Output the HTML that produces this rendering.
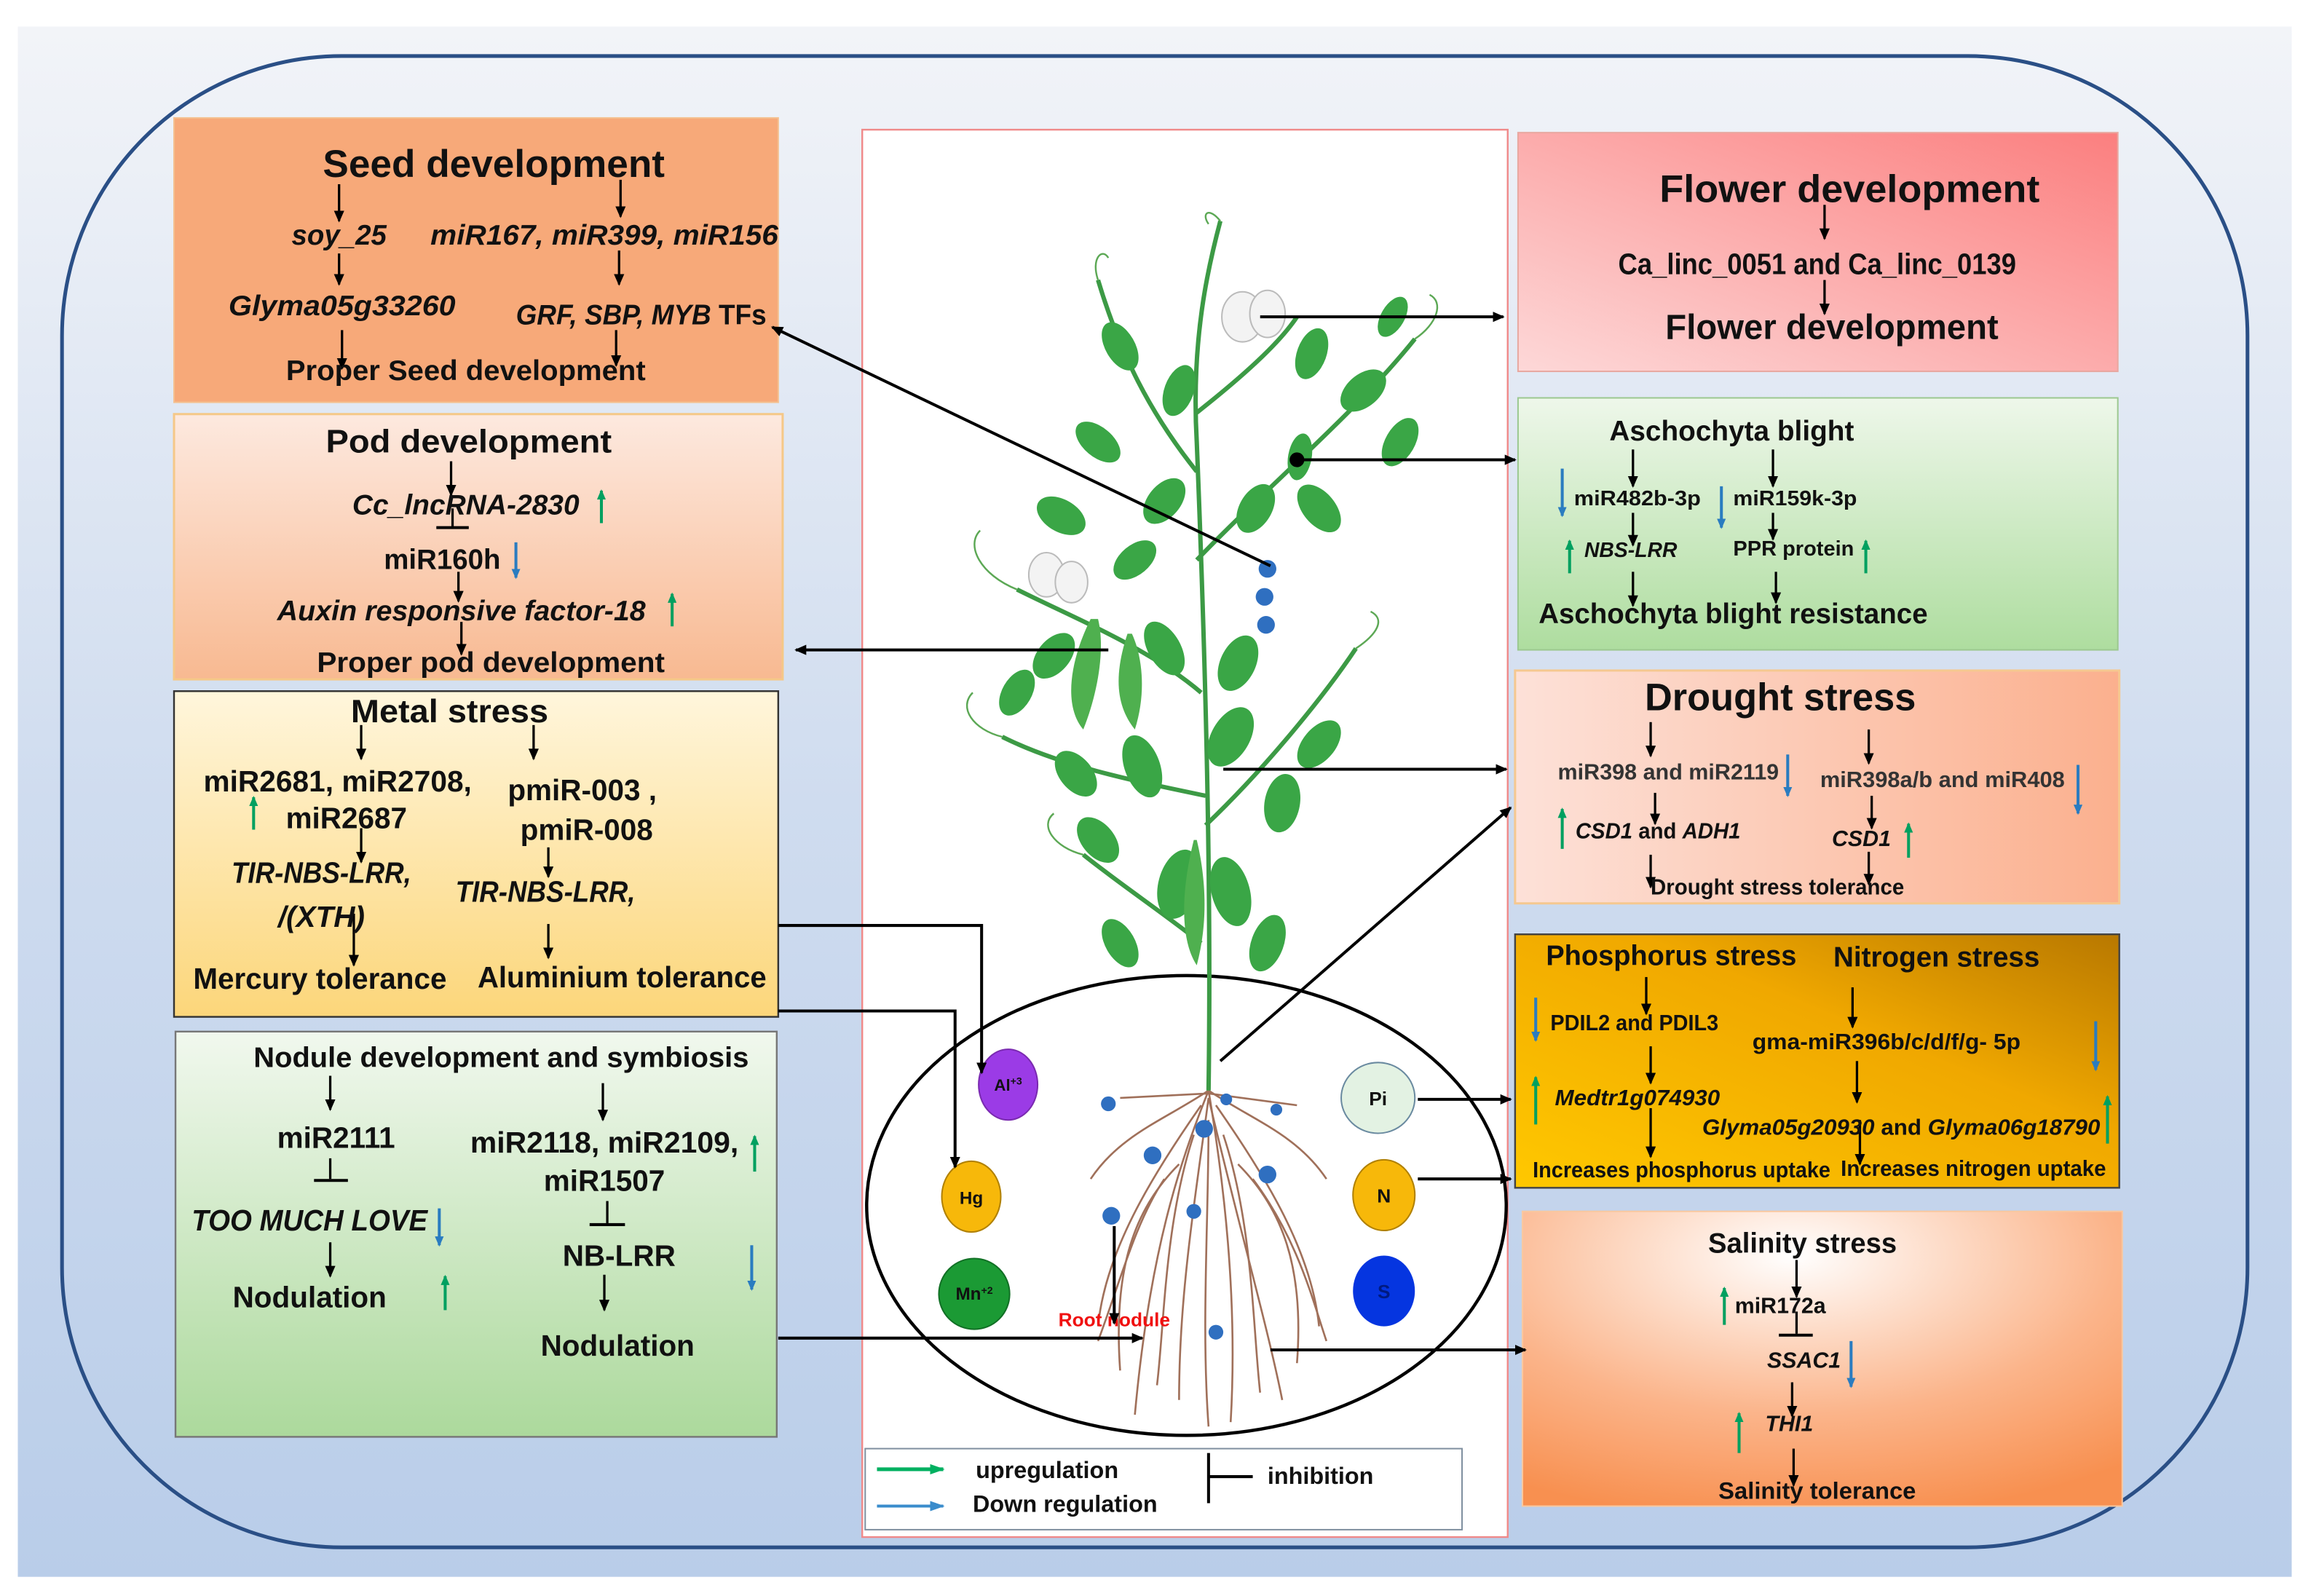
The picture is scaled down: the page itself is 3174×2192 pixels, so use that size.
<!DOCTYPE html>
<html><head><meta charset="utf-8"><style>
html,body{margin:0;padding:0;background:#fff;}
svg{display:block;}
text{font-family:"Liberation Sans Narrow","Liberation Sans",sans-serif;font-weight:bold;fill:#111;}
.i{font-style:italic;}
.g{stroke:#00a060;stroke-width:2;marker-end:url(#sgG);}
.b{stroke:#2a7cc0;stroke-width:2;marker-end:url(#sgB);}
</style></head><body>
<svg width="3174" height="2192" viewBox="0 0 1568 1083" xmlns="http://www.w3.org/2000/svg">
<defs>
<linearGradient id="bg" x1="0" y1="0" x2="0" y2="1"><stop offset="0" stop-color="#f2f4f8"/><stop offset="0.5" stop-color="#cfdcef"/><stop offset="1" stop-color="#b9cde9"/></linearGradient>
<linearGradient id="pod" x1="0" y1="0" x2="0" y2="1"><stop offset="0" stop-color="#fde9df"/><stop offset="1" stop-color="#f8b991"/></linearGradient>
<linearGradient id="metal" x1="0" y1="0" x2="0" y2="1"><stop offset="0" stop-color="#fff6dc"/><stop offset="1" stop-color="#fcd67a"/></linearGradient>
<linearGradient id="nod" x1="0" y1="0" x2="0" y2="1"><stop offset="0" stop-color="#f1f8ee"/><stop offset="1" stop-color="#acd99c"/></linearGradient>
<linearGradient id="flw" x1="0" y1="1" x2="1" y2="0"><stop offset="0" stop-color="#fdd8d8"/><stop offset="1" stop-color="#fb7f7f"/></linearGradient>
<linearGradient id="asc" x1="0" y1="0" x2="0" y2="1"><stop offset="0" stop-color="#eef7ea"/><stop offset="1" stop-color="#aedd9f"/></linearGradient>
<linearGradient id="dro" x1="0" y1="0" x2="1" y2="0"><stop offset="0" stop-color="#fde1d8"/><stop offset="1" stop-color="#fbb08e"/></linearGradient>
<linearGradient id="pn" x1="0" y1="1" x2="1" y2="0"><stop offset="0" stop-color="#ffc800"/><stop offset="0.6" stop-color="#f0a800"/><stop offset="1" stop-color="#b87800"/></linearGradient>
<radialGradient id="sal" cx="0.45" cy="0.15" r="0.9"><stop offset="0" stop-color="#ffffff"/><stop offset="0.6" stop-color="#fbb48a"/><stop offset="1" stop-color="#f89050"/></radialGradient>
<marker id="a" markerWidth="8" markerHeight="8" refX="7" refY="4" orient="auto" markerUnits="userSpaceOnUse"><path d="M0,0.5 L8,4 L0,7.5 z" fill="#000"/></marker>
<marker id="ag" markerWidth="10" markerHeight="8" refX="9" refY="4" orient="auto" markerUnits="userSpaceOnUse"><path d="M0,0.5 L10,4 L0,7.5 z" fill="#00b060"/></marker>
<marker id="ab" markerWidth="10" markerHeight="8" refX="9" refY="4" orient="auto" markerUnits="userSpaceOnUse"><path d="M0,0.5 L10,4 L0,7.5 z" fill="#3a8ccc"/></marker>
<marker id="sgG" markerWidth="7" markerHeight="6" refX="6" refY="3" orient="auto" markerUnits="userSpaceOnUse"><path d="M0,0 L7,3 L0,6 z" fill="#00a060"/></marker>
<marker id="sgB" markerWidth="7" markerHeight="6" refX="6" refY="3" orient="auto" markerUnits="userSpaceOnUse"><path d="M0,0 L7,3 L0,6 z" fill="#2a7cc0"/></marker>
</defs>
<rect x="0" y="0" width="1568" height="1083" fill="#fff"/>
<rect x="12" y="18" width="1543" height="1052" fill="url(#bg)"/>
<rect x="42" y="38" width="1483" height="1012" rx="190" ry="190" fill="none" stroke="#2a4f86" stroke-width="2.5"/>

<rect x="118" y="80" width="410" height="193" fill="#f7a979" stroke="#f4c090" stroke-width="1"/>
<rect x="118" y="281" width="413" height="180" fill="url(#pod)" stroke="#f5c888" stroke-width="1.5"/>
<rect x="118" y="469" width="410" height="221" fill="url(#metal)" stroke="#333" stroke-width="1.2"/>
<rect x="119" y="700" width="408" height="275" fill="url(#nod)" stroke="#777" stroke-width="1.2"/>
<rect x="585" y="88" width="438" height="955" fill="#fff" stroke="#f08a8a" stroke-width="1.2"/>
<rect x="1030" y="90" width="407" height="162" fill="url(#flw)" stroke="#e8a8a0" stroke-width="1"/>
<rect x="1030" y="270" width="407" height="171" fill="url(#asc)" stroke="#9cc890" stroke-width="1"/>
<rect x="1028" y="455" width="410" height="158" fill="url(#dro)" stroke="#f5c890" stroke-width="1.5"/>
<rect x="1028" y="634" width="410" height="172" fill="url(#pn)" stroke="#444" stroke-width="1.2"/>
<rect x="1033" y="822" width="407" height="200" fill="url(#sal)" stroke="#f8c8a0" stroke-width="1"/>

<!-- Seed -->
<g stroke="#000" stroke-width="1.6" marker-end="url(#a)">
<line x1="230" y1="125" x2="230" y2="150"/><line x1="421" y1="122" x2="421" y2="147"/>
<line x1="230" y1="172" x2="230" y2="193"/><line x1="420" y1="170" x2="420" y2="193"/>
<line x1="232" y1="224" x2="232" y2="250"/><line x1="418" y1="224" x2="418" y2="248"/>
</g>
<text x="335" y="120" font-size="26" text-anchor="middle" textLength="232" lengthAdjust="spacingAndGlyphs">Seed development</text>
<text x="230" y="166" font-size="19" text-anchor="middle" class="i">soy_25</text>
<text x="410" y="166" font-size="19" text-anchor="middle" class="i" textLength="236" lengthAdjust="spacingAndGlyphs">miR167, miR399, miR156</text>
<text x="232" y="214" font-size="19" text-anchor="middle" class="i" textLength="154" lengthAdjust="spacingAndGlyphs">Glyma05g33260</text>
<text x="435" y="220" font-size="19" text-anchor="middle" textLength="170" lengthAdjust="spacingAndGlyphs"><tspan class="i">GRF, SBP, MYB</tspan> TFs</text>
<text x="316" y="258" font-size="19" text-anchor="middle" textLength="244" lengthAdjust="spacingAndGlyphs">Proper Seed development</text>

<!-- Pod -->
<g stroke="#000" stroke-width="1.6">
<line x1="306" y1="313" x2="306" y2="336" marker-end="url(#a)"/>
<line x1="307" y1="345" x2="307" y2="358"/><line x1="296" y1="358" x2="318" y2="358" stroke-width="2"/>
<line x1="311" y1="388" x2="311" y2="408" marker-end="url(#a)"/>
<line x1="313" y1="422" x2="313" y2="444" marker-end="url(#a)"/>
</g>
<text x="318" y="307" font-size="22" text-anchor="middle" textLength="194" lengthAdjust="spacingAndGlyphs">Pod development</text>
<text x="316" y="349" font-size="19" text-anchor="middle" class="i" textLength="154" lengthAdjust="spacingAndGlyphs">Cc_lncRNA-2830</text>
<text x="300" y="386" font-size="19" text-anchor="middle">miR160h</text>
<text x="313" y="421" font-size="19" text-anchor="middle" class="i" textLength="250" lengthAdjust="spacingAndGlyphs">Auxin responsive factor-18</text>
<text x="333" y="456" font-size="19" text-anchor="middle" textLength="236" lengthAdjust="spacingAndGlyphs">Proper pod development</text>
<line x1="408" y1="355" x2="408" y2="333" class="g"/>
<line x1="350" y1="368" x2="350" y2="392" class="b"/>
<line x1="456" y1="425" x2="456" y2="403" class="g"/>

<!-- Metal -->
<g stroke="#000" stroke-width="1.6" marker-end="url(#a)">
<line x1="245" y1="492" x2="245" y2="515"/><line x1="362" y1="492" x2="362" y2="515"/>
<line x1="245" y1="562" x2="245" y2="585"/><line x1="372" y1="575" x2="372" y2="595"/>
<line x1="240" y1="620" x2="240" y2="655"/><line x1="372" y1="627" x2="372" y2="650"/>
</g>
<text x="305" y="490" font-size="22" text-anchor="middle" textLength="134" lengthAdjust="spacingAndGlyphs">Metal stress</text>
<text x="229" y="537" font-size="20" text-anchor="middle" textLength="182" lengthAdjust="spacingAndGlyphs">miR2681, miR2708,</text>
<text x="235" y="562" font-size="20" text-anchor="middle">miR2687</text>
<text x="395" y="543" font-size="20" text-anchor="middle">pmiR-003 ,</text>
<text x="398" y="570" font-size="20" text-anchor="middle">pmiR-008</text>
<text x="218" y="599" font-size="20" text-anchor="middle" class="i" textLength="122" lengthAdjust="spacingAndGlyphs">TIR-NBS-LRR,</text>
<text x="218" y="629" font-size="20" text-anchor="middle" class="i">/(XTH)</text>
<text x="370" y="612" font-size="20" text-anchor="middle" class="i" textLength="122" lengthAdjust="spacingAndGlyphs">TIR-NBS-LRR,</text>
<text x="217" y="671" font-size="20" text-anchor="middle" textLength="172" lengthAdjust="spacingAndGlyphs">Mercury tolerance</text>
<text x="422" y="670" font-size="20" text-anchor="middle" textLength="196" lengthAdjust="spacingAndGlyphs">Aluminium tolerance</text>
<line x1="172" y1="563" x2="172" y2="541" class="g"/>

<!-- Nodule -->
<g stroke="#000" stroke-width="1.6">
<line x1="224" y1="730" x2="224" y2="753" marker-end="url(#a)"/><line x1="409" y1="735" x2="409" y2="760" marker-end="url(#a)"/>
<line x1="224" y1="786" x2="224" y2="800"/><line x1="213" y1="801" x2="236" y2="801" stroke-width="2"/>
<line x1="412" y1="815" x2="412" y2="830"/><line x1="400" y1="831" x2="424" y2="831" stroke-width="2"/>
<line x1="224" y1="843" x2="224" y2="866" marker-end="url(#a)"/><line x1="410" y1="865" x2="410" y2="889" marker-end="url(#a)"/>
</g>
<text x="340" y="724" font-size="19" text-anchor="middle" textLength="336" lengthAdjust="spacingAndGlyphs">Nodule development and symbiosis</text>
<text x="228" y="779" font-size="20" text-anchor="middle">miR2111</text>
<text x="410" y="782" font-size="20" text-anchor="middle" textLength="182" lengthAdjust="spacingAndGlyphs">miR2118, miR2109,</text>
<text x="410" y="808" font-size="20" text-anchor="middle">miR1507</text>
<text x="210" y="835" font-size="20" text-anchor="middle" class="i" textLength="160" lengthAdjust="spacingAndGlyphs">TOO MUCH LOVE</text>
<text x="420" y="859" font-size="20" text-anchor="middle">NB-LRR</text>
<text x="210" y="887" font-size="20" text-anchor="middle">Nodulation</text>
<text x="419" y="920" font-size="20" text-anchor="middle">Nodulation</text>
<line x1="512" y1="795" x2="512" y2="771" class="g"/>
<line x1="298" y1="820" x2="298" y2="845" class="b"/>
<line x1="510" y1="845" x2="510" y2="875" class="b"/>
<line x1="302" y1="889" x2="302" y2="866" class="g"/>

<!-- Flower -->
<g stroke="#000" stroke-width="1.6" marker-end="url(#a)">
<line x1="1238" y1="139" x2="1238" y2="162"/><line x1="1238" y1="190" x2="1238" y2="213"/>
</g>
<text x="1255" y="137" font-size="26" text-anchor="middle" textLength="258" lengthAdjust="spacingAndGlyphs">Flower development</text>
<text x="1233" y="186" font-size="20" text-anchor="middle" textLength="270" lengthAdjust="spacingAndGlyphs">Ca_linc_0051 and Ca_linc_0139</text>
<text x="1243" y="230" font-size="24" text-anchor="middle" textLength="226" lengthAdjust="spacingAndGlyphs">Flower development</text>

<!-- Ascochyta -->
<g stroke="#000" stroke-width="1.6" marker-end="url(#a)">
<line x1="1108" y1="305" x2="1108" y2="330"/><line x1="1203" y1="305" x2="1203" y2="330"/>
<line x1="1108" y1="348" x2="1108" y2="370"/><line x1="1203" y1="348" x2="1203" y2="366"/>
<line x1="1108" y1="388" x2="1108" y2="411"/><line x1="1205" y1="388" x2="1205" y2="409"/>
</g>
<text x="1175" y="299" font-size="19" text-anchor="middle" textLength="166" lengthAdjust="spacingAndGlyphs">Aschochyta blight</text>
<text x="1068" y="343" font-size="14" textLength="86" lengthAdjust="spacingAndGlyphs">miR482b-3p</text>
<text x="1176" y="343" font-size="14" textLength="84" lengthAdjust="spacingAndGlyphs">miR159k-3p</text>
<text x="1075" y="378" font-size="14" class="i">NBS-LRR</text>
<text x="1176" y="377" font-size="14" textLength="82" lengthAdjust="spacingAndGlyphs">PPR protein</text>
<text x="1176" y="423" font-size="19" text-anchor="middle" textLength="264" lengthAdjust="spacingAndGlyphs">Aschochyta blight resistance</text>
<line x1="1060" y1="318" x2="1060" y2="350" class="b"/>
<line x1="1168" y1="330" x2="1168" y2="358" class="b"/>
<line x1="1065" y1="389" x2="1065" y2="367" class="g"/>
<line x1="1266" y1="389" x2="1266" y2="367" class="g"/>

<!-- Drought -->
<g stroke="#000" stroke-width="1.6" marker-end="url(#a)">
<line x1="1120" y1="490" x2="1120" y2="513"/><line x1="1268" y1="495" x2="1268" y2="518"/>
<line x1="1123" y1="538" x2="1123" y2="559"/><line x1="1270" y1="540" x2="1270" y2="562"/>
<line x1="1120" y1="580" x2="1120" y2="602"/><line x1="1268" y1="578" x2="1268" y2="600"/>
</g>
<text x="1208" y="482" font-size="26" text-anchor="middle" textLength="184" lengthAdjust="spacingAndGlyphs">Drought stress</text>
<text x="1132" y="529" font-size="15" text-anchor="middle" style="fill:#333" textLength="150" lengthAdjust="spacingAndGlyphs">miR398 and miR2119</text>
<text x="1318" y="534" font-size="15" text-anchor="middle" style="fill:#333" textLength="166" lengthAdjust="spacingAndGlyphs">miR398a/b and miR408</text>
<text x="1125" y="569" font-size="15" text-anchor="middle" textLength="112" lengthAdjust="spacingAndGlyphs"><tspan class="i">CSD1</tspan> and <tspan class="i">ADH1</tspan></text>
<text x="1263" y="574" font-size="15" text-anchor="middle" class="i">CSD1</text>
<text x="1206" y="607" font-size="15" text-anchor="middle" textLength="172" lengthAdjust="spacingAndGlyphs">Drought stress tolerance</text>
<line x1="1213" y1="512" x2="1213" y2="540" class="b"/>
<line x1="1410" y1="519" x2="1410" y2="552" class="b"/>
<line x1="1060" y1="576" x2="1060" y2="549" class="g"/>
<line x1="1295" y1="582" x2="1295" y2="559" class="g"/>

<!-- P / N -->
<g stroke="#000" stroke-width="1.6" marker-end="url(#a)">
<line x1="1117" y1="663" x2="1117" y2="688"/><line x1="1257" y1="670" x2="1257" y2="697"/>
<line x1="1120" y1="710" x2="1120" y2="735"/><line x1="1260" y1="720" x2="1260" y2="748"/>
<line x1="1120" y1="752" x2="1120" y2="785"/><line x1="1262" y1="760" x2="1262" y2="790"/>
</g>
<text x="1134" y="655" font-size="19" text-anchor="middle" textLength="170" lengthAdjust="spacingAndGlyphs">Phosphorus stress</text>
<text x="1314" y="656" font-size="19" text-anchor="middle" textLength="140" lengthAdjust="spacingAndGlyphs">Nitrogen stress</text>
<text x="1052" y="699" font-size="15" textLength="114" lengthAdjust="spacingAndGlyphs">PDIL2 and PDIL3</text>
<text x="1280" y="712" font-size="15" text-anchor="middle" textLength="182" lengthAdjust="spacingAndGlyphs">gma-miR396b/c/d/f/g- 5p</text>
<text x="1055" y="750" font-size="15" class="i" textLength="112" lengthAdjust="spacingAndGlyphs">Medtr1g074930</text>
<text x="1290" y="770" font-size="15" text-anchor="middle" textLength="270" lengthAdjust="spacingAndGlyphs"><tspan class="i">Glyma05g20930</tspan> and <tspan class="i">Glyma06g18790</tspan></text>
<text x="1141" y="799" font-size="15" text-anchor="middle" textLength="202" lengthAdjust="spacingAndGlyphs">Increases phosphorus uptake</text>
<text x="1339" y="798" font-size="15" text-anchor="middle" textLength="180" lengthAdjust="spacingAndGlyphs">Increases nitrogen uptake</text>
<line x1="1042" y1="677" x2="1042" y2="706" class="b"/>
<line x1="1422" y1="693" x2="1422" y2="726" class="b"/>
<line x1="1042" y1="763" x2="1042" y2="731" class="g"/>
<line x1="1430" y1="776" x2="1430" y2="744" class="g"/>

<!-- Salinity -->
<g stroke="#000" stroke-width="1.6">
<line x1="1219" y1="855" x2="1219" y2="880" marker-end="url(#a)"/>
<line x1="1219" y1="890" x2="1219" y2="905"/><line x1="1207" y1="906" x2="1230" y2="906" stroke-width="2"/>
<line x1="1216" y1="938" x2="1216" y2="961" marker-end="url(#a)"/>
<line x1="1217" y1="983" x2="1217" y2="1008" marker-end="url(#a)"/>
</g>
<text x="1223" y="850" font-size="19" text-anchor="middle" textLength="128" lengthAdjust="spacingAndGlyphs">Salinity stress</text>
<text x="1208" y="891" font-size="15" text-anchor="middle">miR172a</text>
<text x="1224" y="928" font-size="15" text-anchor="middle" class="i">SSAC1</text>
<text x="1214" y="971" font-size="15" text-anchor="middle" class="i">THI1</text>
<text x="1233" y="1017" font-size="16" text-anchor="middle" textLength="134" lengthAdjust="spacingAndGlyphs">Salinity tolerance</text>
<line x1="1170" y1="899" x2="1170" y2="874" class="g"/>
<line x1="1256" y1="910" x2="1256" y2="941" class="b"/>
<line x1="1180" y1="986" x2="1180" y2="959" class="g"/>

<!-- Plant -->
<ellipse cx="805" cy="818" rx="217" ry="156" fill="none" stroke="#000" stroke-width="2.2"/>
<g stroke="#a0705a" stroke-width="1.3" fill="none">
<path d="M820,740 C800,790 780,850 770,960"/><path d="M820,740 C830,800 840,880 835,965"/>
<path d="M820,740 C790,760 760,770 740,800"/><path d="M820,740 C850,760 880,770 900,800"/>
<path d="M820,745 C810,820 800,880 800,950"/><path d="M820,745 C840,830 860,900 870,950"/>
<path d="M815,750 C780,800 750,850 745,900"/><path d="M825,750 C860,800 890,850 895,900"/>
<path d="M820,760 C820,830 815,900 820,968"/><path d="M810,770 C790,830 790,900 785,940"/>
<path d="M830,770 C850,830 850,900 855,945"/><path d="M800,790 C770,820 755,860 760,930"/>
<path d="M840,790 C870,820 885,860 880,925"/><path d="M820,742 L760,745"/><path d="M820,742 L880,750"/>
<path d="M790,800 C770,830 760,870 745,910"/><path d="M850,800 C880,840 890,880 900,910"/>
</g>
<g fill="#2f6fc0">
<circle cx="752" cy="749" r="5"/><circle cx="832" cy="746" r="4"/><circle cx="866" cy="753" r="4"/>
<circle cx="817" cy="766" r="6"/><circle cx="782" cy="784" r="6"/><circle cx="860" cy="797" r="6"/>
<circle cx="810" cy="822" r="5"/><circle cx="754" cy="825" r="6"/><circle cx="825" cy="904" r="5"/>
<circle cx="860" cy="386" r="6"/><circle cx="858" cy="405" r="6"/><circle cx="859" cy="424" r="6"/>
</g>
<g stroke="#3c9a45" stroke-width="3" fill="none">
<path d="M820,740 C822,600 818,450 812,300 C808,230 820,180 828,150"/>
<path d="M815,470 C780,440 730,420 690,400"/><path d="M812,380 C860,330 920,280 960,230"/>
<path d="M812,320 C780,280 760,240 745,190"/><path d="M818,560 C860,520 900,470 920,440"/>
<path d="M818,540 C770,530 720,520 680,500"/><path d="M815,640 C790,620 760,600 735,580"/>
<path d="M812,280 C850,250 870,230 880,215"/>
</g>
<g stroke="#5ca855" stroke-width="1.2" fill="none">
<path d="M828,150 C820,140 815,145 820,152"/><path d="M960,230 C975,220 980,205 970,200"/>
<path d="M690,400 C665,390 655,370 665,360"/><path d="M745,190 C740,175 748,168 752,175"/>
<path d="M920,440 C935,430 940,420 930,415"/><path d="M680,500 C660,495 650,480 660,470"/>
<path d="M735,580 C715,575 705,560 715,552"/>
</g>
<g fill="#3aa646">
<ellipse cx="760" cy="235" rx="10" ry="18" transform="rotate(-30 760 235)"/>
<ellipse cx="800" cy="265" rx="10" ry="18" transform="rotate(20 800 265)"/>
<ellipse cx="745" cy="300" rx="10" ry="18" transform="rotate(-50 745 300)"/>
<ellipse cx="790" cy="340" rx="11" ry="18" transform="rotate(40 790 340)"/>
<ellipse cx="720" cy="350" rx="11" ry="18" transform="rotate(-60 720 350)"/>
<ellipse cx="890" cy="240" rx="10" ry="18" transform="rotate(20 890 240)"/>
<ellipse cx="925" cy="265" rx="11" ry="18" transform="rotate(50 925 265)"/>
<ellipse cx="950" cy="300" rx="10" ry="18" transform="rotate(30 950 300)"/>
<ellipse cx="895" cy="345" rx="11" ry="19" transform="rotate(-40 895 345)"/>
<ellipse cx="882" cy="310" rx="8" ry="16" transform="rotate(10 882 310)"/>
<ellipse cx="852" cy="345" rx="11" ry="18" transform="rotate(30 852 345)"/>
<ellipse cx="790" cy="440" rx="11" ry="20" transform="rotate(-30 790 440)"/>
<ellipse cx="840" cy="450" rx="12" ry="20" transform="rotate(25 840 450)"/>
<ellipse cx="715" cy="445" rx="11" ry="18" transform="rotate(40 715 445)"/>
<ellipse cx="775" cy="520" rx="12" ry="22" transform="rotate(-20 775 520)"/>
<ellipse cx="835" cy="500" rx="13" ry="22" transform="rotate(30 835 500)"/>
<ellipse cx="870" cy="545" rx="12" ry="20" transform="rotate(10 870 545)"/>
<ellipse cx="895" cy="505" rx="11" ry="19" transform="rotate(40 895 505)"/>
<ellipse cx="730" cy="525" rx="11" ry="18" transform="rotate(-40 730 525)"/>
<ellipse cx="690" cy="470" rx="10" ry="17" transform="rotate(30 690 470)"/>
<ellipse cx="800" cy="600" rx="14" ry="24" transform="rotate(15 800 600)"/>
<ellipse cx="835" cy="605" rx="13" ry="24" transform="rotate(-15 835 605)"/>
<ellipse cx="745" cy="570" rx="11" ry="18" transform="rotate(-40 745 570)"/>
<ellipse cx="860" cy="640" rx="11" ry="20" transform="rotate(20 860 640)"/>
<ellipse cx="760" cy="640" rx="10" ry="18" transform="rotate(-30 760 640)"/>
<ellipse cx="770" cy="380" rx="10" ry="17" transform="rotate(50 770 380)"/>
<ellipse cx="945" cy="215" rx="8" ry="15" transform="rotate(30 945 215)"/>
</g>
<g fill="#4fb04f">
<path d="M740,420 C725,450 722,480 735,495 C745,470 750,440 745,420 z"/>
<path d="M765,430 C755,460 758,480 770,495 C778,470 775,445 768,430 z"/>
<path d="M810,570 C800,610 802,640 812,655 C820,625 818,595 812,570 z"/>
</g>
<g fill="#f3f3f3" stroke="#bbb" stroke-width="1">
<ellipse cx="843" cy="215" rx="14" ry="17"/><ellipse cx="860" cy="213" rx="12" ry="16"/>
<ellipse cx="710" cy="390" rx="12" ry="15"/><ellipse cx="727" cy="395" rx="11" ry="14"/>
</g>

<ellipse cx="684" cy="736" rx="20" ry="24" fill="#9b3be6" stroke="#7a2ab0"/><text x="684" y="740" font-size="11" text-anchor="middle">Al<tspan font-size="7" dy="-4">+3</tspan></text>
<ellipse cx="659" cy="812" rx="20" ry="24" fill="#f7b80a" stroke="#b08000"/><text x="659" y="817" font-size="12" text-anchor="middle">Hg</text>
<ellipse cx="661" cy="878" rx="24" ry="24" fill="#1b9a34" stroke="#117025"/><text x="661" y="882" font-size="12" text-anchor="middle">Mn<tspan font-size="7" dy="-4">+2</tspan></text>
<ellipse cx="935" cy="745" rx="25" ry="24" fill="#e3f2e3" stroke="#6a8aa0"/><text x="935" y="750" font-size="13" text-anchor="middle">Pi</text>
<ellipse cx="939" cy="811" rx="21" ry="24" fill="#f7b80a" stroke="#b08000"/><text x="939" y="816" font-size="13" text-anchor="middle">N</text>
<ellipse cx="939" cy="876" rx="21" ry="24" fill="#0535e0"/><text x="939" y="881" font-size="13" text-anchor="middle" style="fill:#001a80">S</text>
<text x="756" y="900" font-size="13" text-anchor="middle" style="fill:#f01010">Root nodule</text>

<g stroke="#000" stroke-width="2" fill="none" marker-end="url(#a)">
<line x1="862" y1="384" x2="524" y2="222"/>
<line x1="855" y1="215" x2="1020" y2="215"/>
<line x1="880" y1="312" x2="1028" y2="312"/>
<line x1="752" y1="441" x2="540" y2="441"/>
<line x1="830" y1="522" x2="1022" y2="522"/>
<line x1="828" y1="720" x2="1025" y2="548"/>
<line x1="962" y1="746" x2="1025" y2="746"/>
<line x1="962" y1="800" x2="1025" y2="800"/>
<line x1="862" y1="916" x2="1035" y2="916"/>
<polyline points="528,628 666,628 666,728"/>
<polyline points="528,686 648,686 648,792"/>
<line x1="528" y1="908" x2="775" y2="908"/>
<line x1="756" y1="832" x2="756" y2="898"/>
</g>
<circle cx="880" cy="312" r="5" fill="#000"/>

<rect x="587" y="983" width="405" height="55" fill="#fff" stroke="#8090a0" stroke-width="1"/>
<line x1="595" y1="997" x2="640" y2="997" stroke="#00b060" stroke-width="2.5" marker-end="url(#ag)"/>
<line x1="595" y1="1022" x2="640" y2="1022" stroke="#3a8ccc" stroke-width="2" marker-end="url(#ab)"/>
<text x="662" y="1003" font-size="16">upregulation</text>
<text x="660" y="1026" font-size="16">Down regulation</text>
<line x1="820" y1="986" x2="820" y2="1020" stroke="#000" stroke-width="2"/>
<line x1="820" y1="1002" x2="850" y2="1002" stroke="#000" stroke-width="2"/>
<text x="860" y="1007" font-size="16">inhibition</text>
</svg>
</body></html>
